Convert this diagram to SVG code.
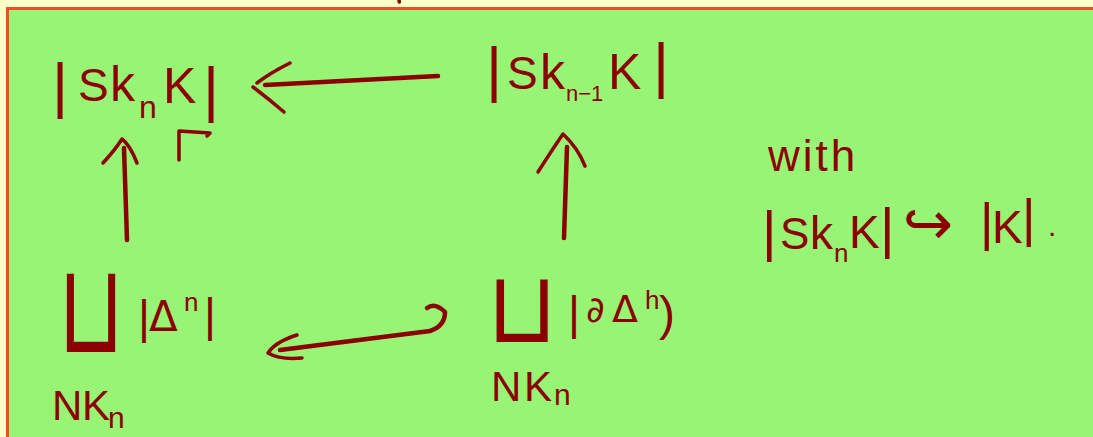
<svg xmlns="http://www.w3.org/2000/svg" width="1093" height="437" viewBox="0 0 1093 437">
<style>
.t{font-family:"Liberation Sans","DejaVu Sans",sans-serif;fill:#8b0000}
.s{font-family:"DejaVu Sans","Liberation Sans",sans-serif;fill:#8b0000}
.ln{fill:none;stroke:#8b0000;stroke-width:4.5;stroke-linecap:round;stroke-linejoin:round}
.hd{fill:none;stroke:#8b0000;stroke-width:3.5;stroke-linecap:round;stroke-linejoin:round}
</style>
<rect x="0" y="0" width="1093" height="437" fill="#ffffc8"/>
<rect x="7.5" y="8.5" width="1300" height="600" fill="#98f474" stroke="#f04a26" stroke-width="3"/>
<path d="M399 0 L399.3 2" class="hd"/>
<g id="skn">
<text class="t" font-size="50"><tspan x="52" y="106" font-size="62">|</tspan><tspan x="78" y="101" font-size="46">S</tspan><tspan x="110" y="101">k</tspan><tspan x="139" y="118" font-size="32">n</tspan><tspan x="163" y="103">K</tspan><tspan x="203" y="110" font-size="62">|</tspan></text>
</g>
<g id="skn1">
<text class="t" font-size="50"><tspan x="486" y="90" font-size="62">|</tspan><tspan x="507" y="89" font-size="46">S</tspan><tspan x="540" y="89">k</tspan><tspan x="566" y="101" font-size="22">n−1</tspan><tspan x="608" y="89">K</tspan><tspan x="653" y="86" font-size="62">|</tspan></text>
</g>
<g id="with">
<text class="t" font-size="44" letter-spacing="3" x="768" y="171">with</text>
<text class="t" font-size="46"><tspan x="762" y="250" font-size="56">|</tspan><tspan x="780" y="249" font-size="44">S</tspan><tspan x="810" y="249">k</tspan><tspan x="834" y="262" font-size="26">n</tspan><tspan x="849" y="248">K</tspan><tspan x="880" y="247" font-size="56">|</tspan><tspan x="903" y="244" class="s" font-size="60">↪</tspan><tspan x="980" y="240" font-size="52">|</tspan><tspan x="992" y="243">K</tspan><tspan x="1022" y="236" font-size="52">|</tspan><tspan x="1048" y="236" font-size="30">.</tspan></text>
</g>
<g id="coprod-delta">
<text class="s" font-size="100" transform="translate(58,352) scale(0.85,1.25)">⊔</text>
<text class="t" font-size="40"><tspan x="138" y="333" font-size="46">|</tspan><tspan x="149" y="331" class="s" font-size="42">Δ</tspan><tspan x="184" y="311" font-size="26">n</tspan><tspan x="204" y="331" font-size="46">|</tspan></text>
<text class="t" font-size="42"><tspan x="52" y="420">N</tspan><tspan x="82" y="420">K</tspan><tspan x="108" y="428" font-size="30">n</tspan></text>
</g>
<g id="coprod-bdelta">
<text class="s" font-size="100" transform="translate(487,342) scale(0.9,1.0)">⊔</text>
<text class="t" font-size="40"><tspan x="568" y="329" font-size="46">|</tspan><tspan x="586" y="322" class="s" font-size="36">∂</tspan><tspan x="612" y="322" class="s" font-size="38">Δ</tspan><tspan x="645" y="309" font-size="26">h</tspan><tspan x="659" y="330" font-size="48">)</tspan></text>
<text class="t" font-size="42"><tspan x="491" y="401">N</tspan><tspan x="524" y="401">K</tspan><tspan x="554" y="405" font-size="30">n</tspan></text>
</g>
<g id="connectors">
<path class="ln" d="M438 76 L265 85"/>
<path class="hd" d="M290 63 Q270 73 257 83 M253 87 Q270 100 284 112"/>
<path class="ln" d="M124 148 L127 240"/>
<path class="hd" d="M103 163 Q115 150 122 139 Q130 145 137 163"/>
<path class="hd" d="M179 160 L179 131 L210 133 L207 136"/>
<path class="ln" d="M567 147 L564 238"/>
<path class="hd" d="M538 172 Q552 150 563 134 Q578 148 585 166"/>
<path class="ln" d="M427 308 Q435 302 445 312 Q445 326 430 331 Q360 340 280 350"/>
<path class="hd" d="M297 335 Q275 342 268 353 Q280 360 302 358"/>
</g>
</svg>
